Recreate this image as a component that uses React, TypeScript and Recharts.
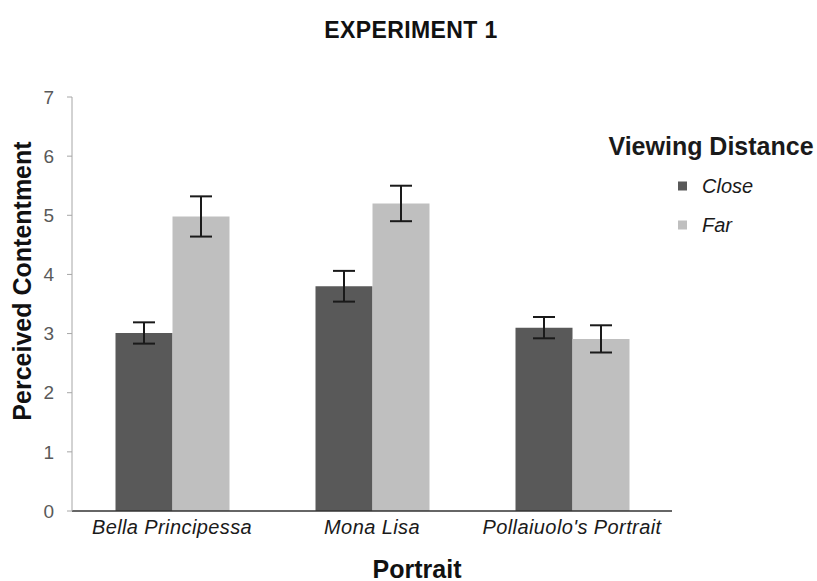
import React from "react";
import { BarChart, Bar, XAxis, YAxis, ErrorBar } from "recharts";

const categories = ["Bella Principessa", "Mona  Lisa", "Pollaiuolo's Portrait"];
const closeValues = [3.01, 3.8, 3.1];
const closeErrors = [0.18, 0.26, 0.18];
const farValues = [4.98, 5.2, 2.91];
const farErrors = [0.34, 0.3, 0.23];
const yTicks = [0, 1, 2, 3, 4, 5, 6, 7];
const seriesNames = ["Close", "Far"];

const data = categories.map((c, i) => ({
  name: c,
  close: closeValues[i],
  closeErr: closeErrors[i],
  far: farValues[i],
  farErr: farErrors[i],
}));

const FONT = '"Liberation Sans", Arial, sans-serif';
const DARK = "#595959";
const LIGHT = "#bfbfbf";
const seriesColors = [DARK, LIGHT];

export default function App() {
  return (
    <div style={{ position: "absolute", left: 0, top: 0, width: 817, height: 581, background: "#fff", fontFamily: FONT }}>
      <div style={{ position: "absolute", left: 411, top: 30, transform: "translate(-50%, -50%)", whiteSpace: "nowrap", fontWeight: "bold", fontSize: 23, color: "#111", letterSpacing: 0.4 }}>
        EXPERIMENT 1
      </div>
      <BarChart
        width={817}
        height={581}
        data={data}
        margin={{ top: 97, right: 145, bottom: 40, left: 12 }}
        barCategoryGap="21.75%"
        barGap={0}
      >
        <XAxis
          dataKey="name"
          height={30}
          axisLine={{ stroke: "#333", strokeWidth: 1.5 }}
          tickLine={false}
          tickSize={0}
          tickMargin={9}
          tick={{ fill: "#1a1a1a", fontSize: 20, fontStyle: "italic", fontFamily: FONT, letterSpacing: 0.4 }}
          interval={0}
        />
        <YAxis
          width={60}
          domain={[0, 7]}
          ticks={yTicks}
          axisLine={{ stroke: "#a6a6a6" }}
          tickLine={{ stroke: "#a6a6a6" }}
          tickSize={5}
          tickMargin={13}
          tick={{ fill: "#595959", fontSize: 19, fontFamily: FONT }}
        />
        <Bar dataKey="close" name="Close" fill={DARK} isAnimationActive={false}>
          <ErrorBar dataKey="closeErr" width={11} stroke="#1a1a1a" strokeWidth={2} />
        </Bar>
        <Bar dataKey="far" name="Far" fill={LIGHT} isAnimationActive={false}>
          <ErrorBar dataKey="farErr" width={11} stroke="#1a1a1a" strokeWidth={2} />
        </Bar>
      </BarChart>
      <div style={{ position: "absolute", left: 711, top: 146, transform: "translate(-50%, -50%)", whiteSpace: "nowrap", fontWeight: "bold", fontSize: 25, color: "#1a1a1a" }}>
        Viewing Distance
      </div>
      {seriesNames.map((n, i) => (
        <div key={n} style={{ position: "absolute", left: 678, top: 186 + i * 39, transform: "translateY(-50%)", display: "flex", alignItems: "center", whiteSpace: "nowrap" }}>
          <div style={{ width: 9, height: 9, background: seriesColors[i] }} />
          <span style={{ marginLeft: 15, fontStyle: "italic", fontSize: 20, color: "#1a1a1a" }}>{n}</span>
        </div>
      ))}
      <div
        style={{
          position: "absolute",
          left: 22,
          top: 281,
          transform: "translate(-50%, -50%) rotate(-90deg)",
          whiteSpace: "nowrap",
          fontWeight: "bold",
          fontSize: 25,
          color: "#111",
        }}
      >
        Perceived Contentment
      </div>
      <div
        style={{
          position: "absolute",
          left: 417,
          top: 569,
          transform: "translate(-50%, -50%)",
          whiteSpace: "nowrap",
          fontWeight: "bold",
          fontSize: 25,
          color: "#111",
        }}
      >
        Portrait
      </div>
    </div>
  );
}
